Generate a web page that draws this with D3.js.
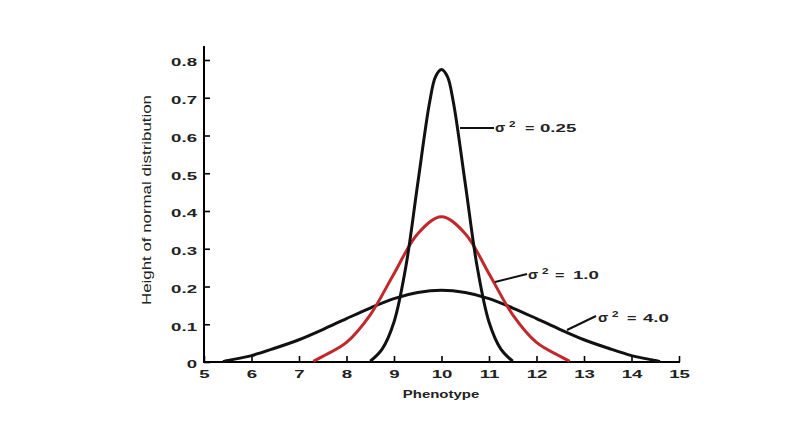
<!DOCTYPE html>
<html><head><meta charset="utf-8">
<script src="https://cdn.jsdelivr.net/npm/d3@7"></script>
<style>body{margin:0;background:#fff}</style>
</head><body>
<svg id="c" width="806" height="430"></svg>
<script>
const xTicks = [5,6,7,8,9,10,11,12,13,14,15];
const yTicks = [0,0.1,0.2,0.3,0.4,0.5,0.6,0.7,0.8];
const yTickLabels = ["0","0.1","0.2","0.3","0.4","0.5","0.6","0.7","0.8"];

// σ² = 0.25
const narrowX = [8.5,8.75,9,9.25,9.5,9.75,9.875,10,10.125,10.25,10.5,10.75,11,11.25,11.5];
const narrowY = [0.002,0.034,0.106,0.253,0.473,0.688,0.756,0.775,0.756,0.688,0.473,0.253,0.106,0.034,0.002];
// σ² = 1.0
const midX = [7.3,7.5,8,8.5,9,9.5,10,10.5,11,11.5,12,12.5,12.7];
const midY = [0.002,0.015,0.052,0.125,0.234,0.340,0.385,0.340,0.234,0.125,0.052,0.015,0.002];
// σ² = 4.0
const wideX = [5.4,5.5,6,6.5,7,7.5,8,8.5,9,9.5,10,10.5,11,11.5,12,12.5,13,13.5,14,14.5,14.6];
const wideY = [0.001,0.004,0.017,0.037,0.059,0.086,0.115,0.143,0.168,0.184,0.19,0.184,0.168,0.143,0.115,0.086,0.059,0.037,0.017,0.004,0.001];

const labelSymbol = "σ";
const labelSup = "2";
const labelValues = ["0.25","1.0","4.0"];

const svg = d3.select("#c");
const x = d3.scaleLinear().domain([5,15]).range([204,679]);
const y = d3.scaleLinear().domain([0,0.8]).range([362,60]);
const font = "'Liberation Sans', Arial, sans-serif";
const K = 1.62; // horizontal stretch of numeric lettering

function stretch(sel, k){
  sel.each(function(){
    const len = this.getComputedTextLength();
    d3.select(this).attr("textLength", len*k).attr("lengthAdjust","spacingAndGlyphs");
  });
}

// axes
const xa = svg.append("g").attr("transform","translate(0,362)")
  .call(d3.axisBottom(x).tickValues(xTicks).tickSizeInner(-6).tickSizeOuter(0).tickPadding(8).tickFormat(d3.format("d")));
const ya = svg.append("g").attr("transform","translate(204,0)")
  .call(d3.axisLeft(y).tickValues(yTicks).tickSizeInner(-6).tickSizeOuter(0).tickPadding(7).tickFormat((d,i)=>yTickLabels[i]));
[xa,ya].forEach(a=>{
  a.select(".domain").remove();
  a.selectAll(".tick line").attr("stroke","#000").attr("stroke-width",1.6);
  a.selectAll("text").attr("font-family",font).attr("font-size",11.5).attr("font-weight","bold").attr("fill","#222");
});
xa.selectAll("text").attr("y",16).attr("dy","0");
ya.selectAll("text").attr("dy","0.5em");
stretch(xa.selectAll("text"),K);
stretch(ya.selectAll("text"),K);
svg.append("line").attr("x1",204).attr("x2",204).attr("y1",46).attr("y2",363).attr("stroke","#000").attr("stroke-width",2);
svg.append("line").attr("x1",203).attr("x2",680).attr("y1",362).attr("y2",362).attr("stroke","#000").attr("stroke-width",2);

const line = d3.line().x(d=>x(d[0])).y(d=>y(d[1])).curve(d3.curveCatmullRom.alpha(0.5));
function draw(xs,ys,color){
  svg.append("path").datum(xs.map((v,i)=>[v,ys[i]])).attr("d",line)
    .attr("fill","none").attr("stroke",color).attr("stroke-width",3).attr("stroke-linejoin","round");
}
draw(wideX,wideY,"#111");
draw(midX,midY,"#c0282b");
draw(narrowX,narrowY,"#111");

// leader lines and labels
const leaders = [
  {x1:460,y1:128,x2:494,y2:128, sx:495, supx:509, eqx:525, vx:540, by:132},
  {x1:495,y1:282,x2:527,y2:274, sx:528, supx:542, eqx:555, vx:573, by:279},
  {x1:567,y1:330,x2:596,y2:316, sx:598, supx:612, eqx:627, vx:643, by:322}
];
leaders.forEach((l,i)=>{
  svg.append("line").attr("x1",l.x1).attr("y1",l.y1).attr("x2",l.x2).attr("y2",l.y2).attr("stroke","#111").attr("stroke-width",2);
  const g = svg.append("g").attr("font-family",font).attr("font-weight","bold").attr("fill","#222");
  const t1 = g.append("text").attr("x",l.sx).attr("y",l.by).attr("font-size",12).text(labelSymbol);
  const t2 = g.append("text").attr("x",l.supx).attr("y",l.by-5).attr("font-size",9).text(labelSup);
  const t3 = g.append("text").attr("x",l.eqx).attr("y",l.by).attr("font-size",11.5).text("=");
  const t4 = g.append("text").attr("x",l.vx).attr("y",l.by).attr("font-size",11.5).text(labelValues[i]);
  stretch(t1,1.25); stretch(t2,1.3); stretch(t3,1.4); stretch(t4,K);
});

const ph = svg.append("text").attr("x",441).attr("y",398).attr("text-anchor","middle").attr("font-family",font).attr("font-size",11.5).attr("font-weight","bold").attr("fill","#222").text("Phenotype");
stretch(ph,1.3);
svg.append("text").attr("transform","translate(151,200) rotate(-90)").attr("text-anchor","middle").attr("font-family",font).attr("font-size",13).attr("fill","#222")
  .attr("textLength",210).attr("lengthAdjust","spacingAndGlyphs").text("Height of normal distribution");
</script>
</body></html>
